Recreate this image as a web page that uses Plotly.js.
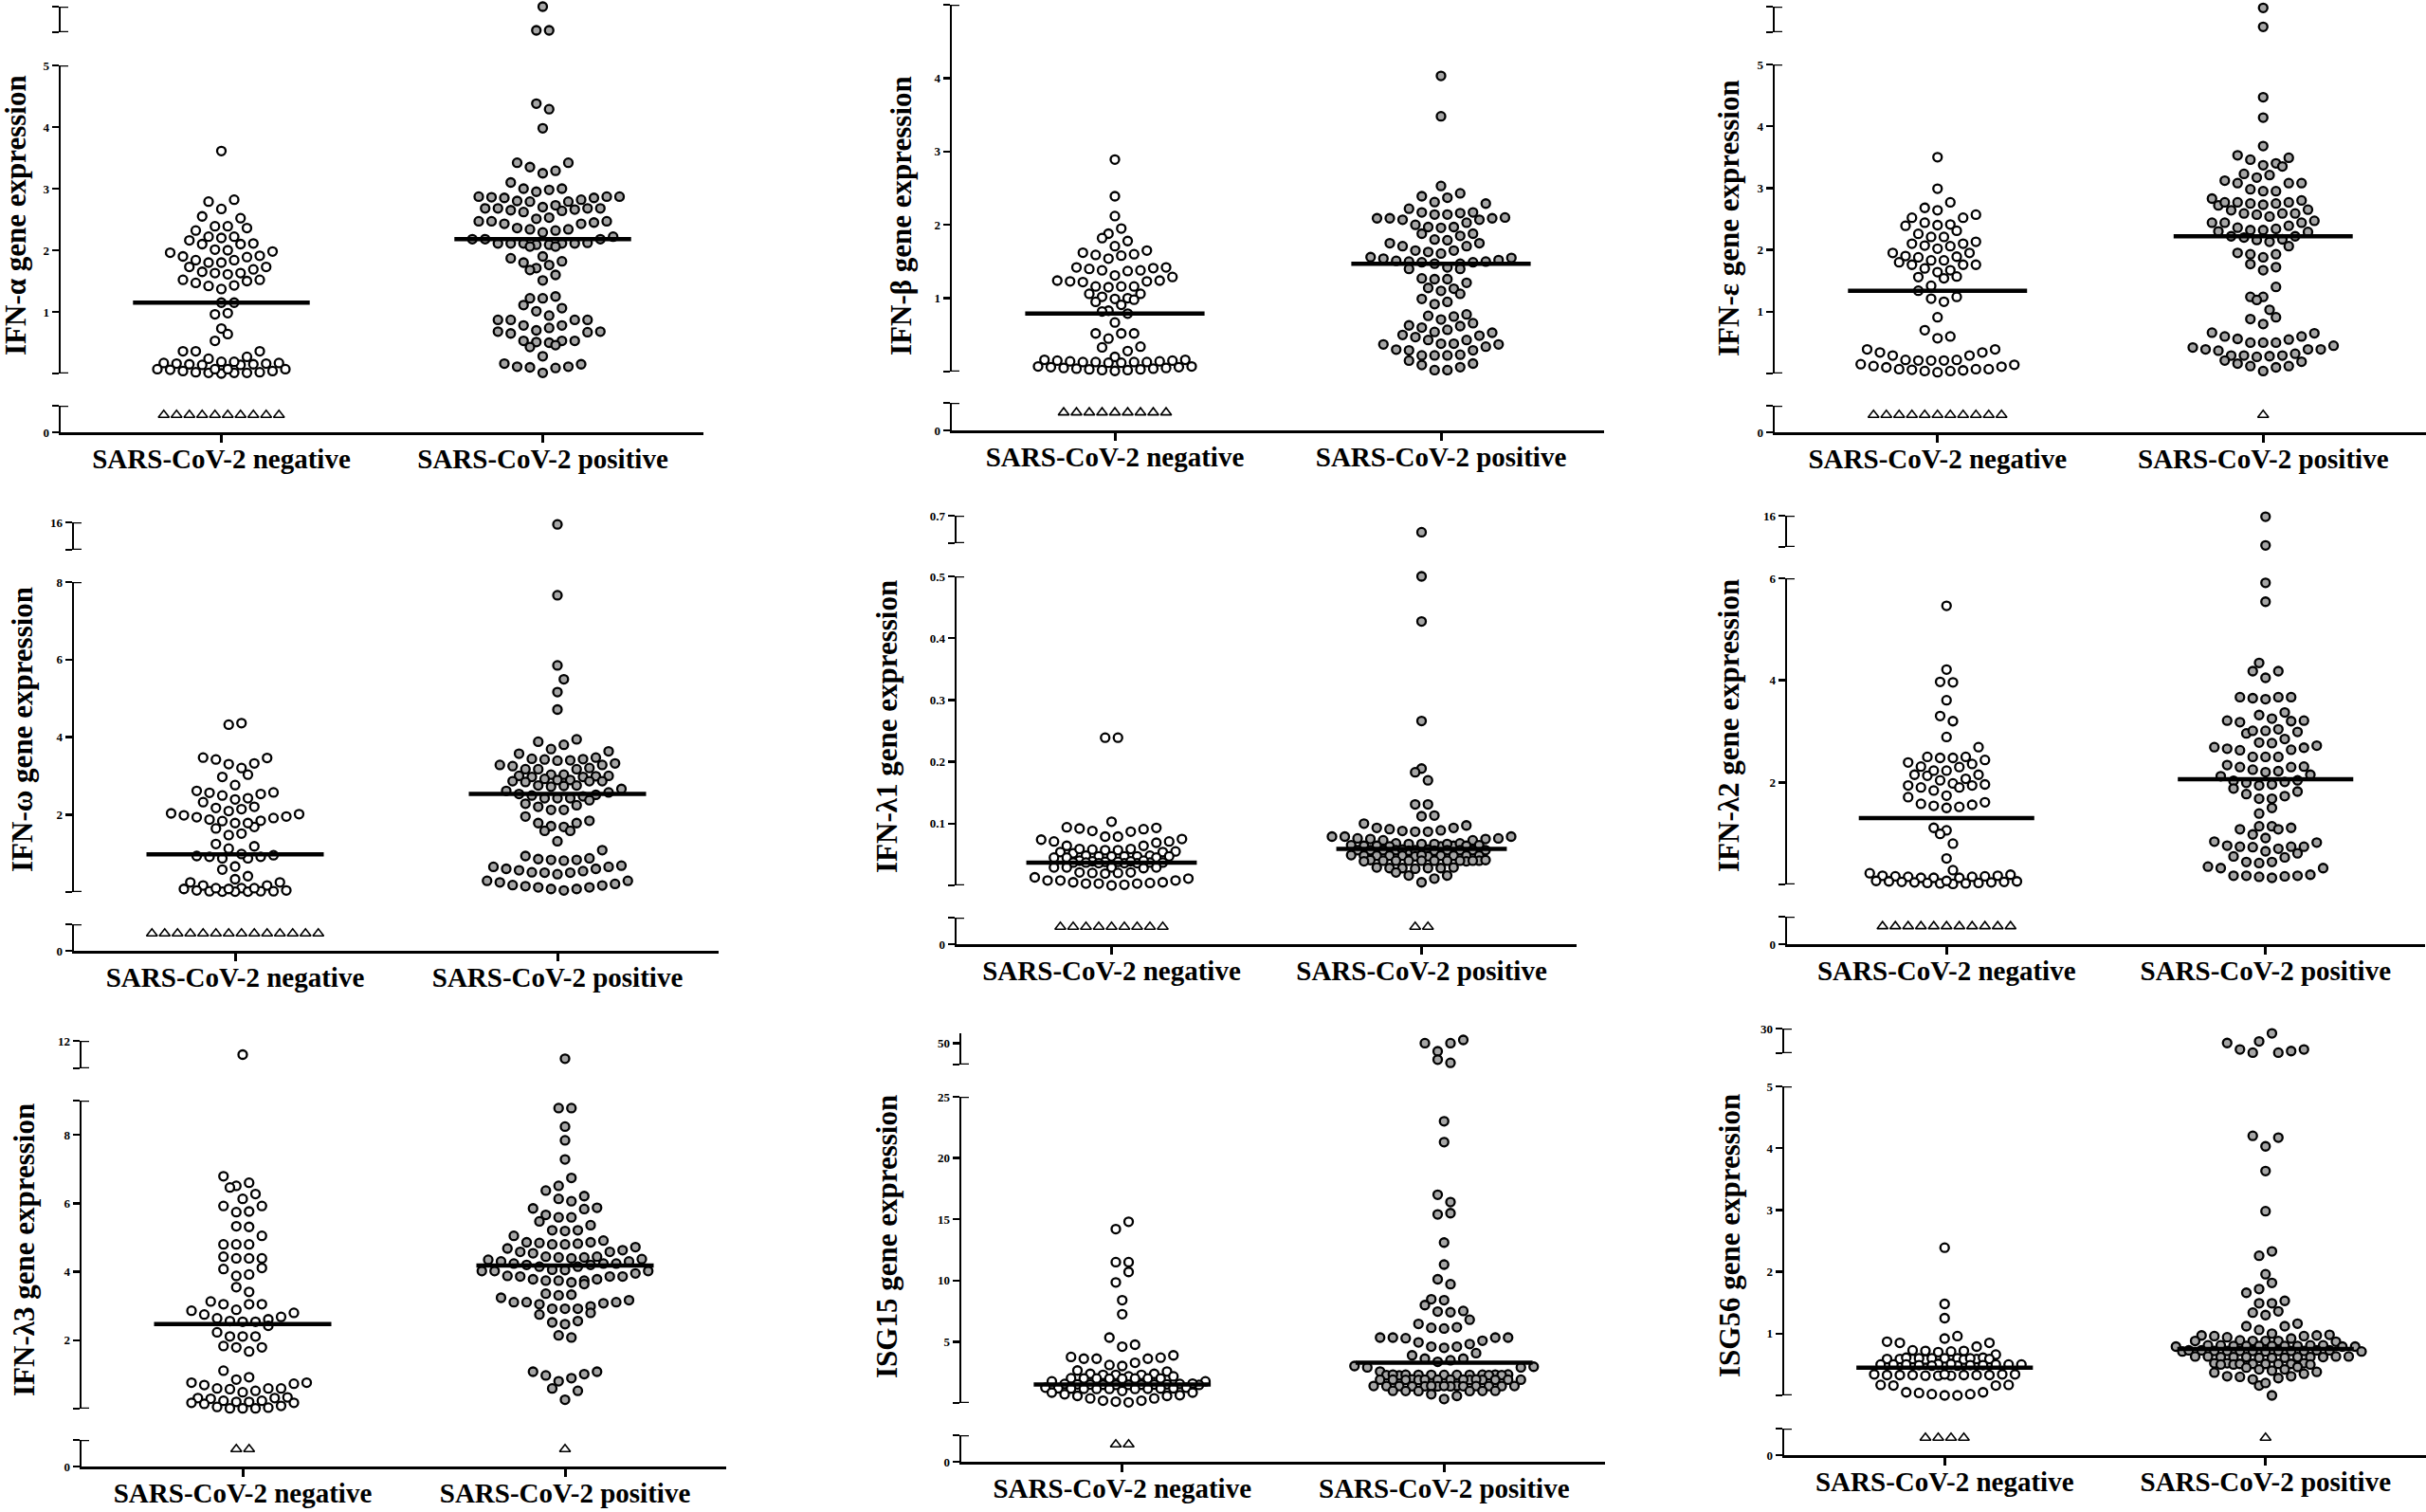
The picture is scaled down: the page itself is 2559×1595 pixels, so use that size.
<!DOCTYPE html>
<html><head><meta charset="utf-8">
<script src="https://cdn.plot.ly/plotly-3.0.1.min.js"></script>
<style>html,body{margin:0;padding:0;background:#fff}#chart{width:2559px;height:1595px}</style>
</head><body><div id="chart"></div>
<script>
// ---------------- DATA ----------------
const categories = ['SARS-CoV-2 negative', 'SARS-CoV-2 positive'];
const yTitles = ['IFN-α gene expression','IFN-β gene expression','IFN-ε gene expression',
  'IFN-ω gene expression','IFN-λ1 gene expression','IFN-λ2 gene expression',
  'IFN-λ3 gene expression','ISG15 gene expression','ISG56 gene expression'];

// IFN-alpha
const ifnA_neg = [3.61,2.82,2.79,2.67,2.55,2.52,2.39,2.32,2.36,2.39,2.22,2.16,2.10,2.10,2.11,2.20,2.22,2.01,1.98,1.96,2.00,1.91,1.89,1.84,1.84,1.90,1.80,1.80,1.73,1.73,1.65,1.63,1.61,1.63,1.69,1.52,1.50,1.47,1.52,1.43,1.37,1.42,1.15,1.15,0.96,0.98,0.73,0.64,0.53,0.36,0.36,0.36,0.24,0.27,0.19,0.17,0.16,0.15,0.14,0.14,0.15,0.16,0.17,0.19,0.07,0.07,0.04,0.02,0.01,0.01,0.00,0.01,0.02,0.04,0.06,0.07,0.07];
const ifnA_pos = [4.38,4.29,3.98,3.42,3.29,3.25,3.35,3.42,3.10,3.00,3.00,2.98,2.95,2.87,2.87,2.86,2.82,2.79,2.79,2.80,2.85,2.85,2.87,2.68,2.68,2.68,2.62,2.66,2.64,2.65,2.68,2.70,2.73,2.51,2.47,2.43,2.45,2.53,2.47,2.47,2.34,2.32,2.29,2.36,2.34,2.43,2.18,2.18,2.11,2.11,2.11,2.11,2.09,2.09,2.11,2.12,2.18,2.22,2.06,2.06,1.90,1.82,1.76,1.71,1.80,1.87,1.68,1.60,1.51,1.22,1.22,1.25,1.11,1.06,1.01,0.94,0.87,0.87,0.87,0.87,0.78,0.74,0.78,0.70,0.68,0.65,0.67,0.68,0.53,0.53,0.51,0.53,0.50,0.43,0.46,0.28,0.16,0.11,0.10,0.09,0.11,0.15,0.01];
const ifnA_negTop = [];
const ifnA_posTop = [12.0,10.15,10.15];
const ifnA_negND = [0.65,0.65,0.65,0.65,0.65,0.65,0.65,0.65,0.65,0.65];
const ifnA_posND = [];
const ifnA_median = [1.15,2.18];
const ifnA_mainTicks = [0,1,2,3,4,5], ifnA_mainText = ['','1','2','3','4','5'];
const ifnA_topTicks = [10,12], ifnA_topText = ['','12'];

// IFN-beta
const ifnB_neg = [2.89,2.39,2.12,1.95,1.88,1.82,1.78,1.71,1.65,1.62,1.60,1.59,1.58,1.54,1.42,1.42,1.41,1.40,1.38,1.38,1.37,1.31,1.29,1.24,1.24,1.23,1.22,1.23,1.16,1.16,1.15,1.16,1.06,1.06,1.02,1.00,0.99,0.98,0.95,0.91,0.83,0.82,0.79,0.67,0.52,0.52,0.52,0.45,0.34,0.33,0.28,0.20,0.16,0.15,0.14,0.13,0.13,0.12,0.12,0.13,0.13,0.14,0.15,0.16,0.07,0.06,0.05,0.04,0.03,0.02,0.01,0.02,0.03,0.04,0.05,0.06,0.07];
const ifnB_pos = [4.03,3.48,2.53,2.43,2.39,2.37,2.29,2.31,2.22,2.17,2.14,2.09,2.09,2.07,2.03,2.07,2.09,2.10,2.14,2.16,2.17,2.00,1.97,1.96,1.97,1.88,1.85,1.88,1.80,1.75,1.79,1.75,1.71,1.71,1.65,1.63,1.65,1.61,1.55,1.51,1.50,1.49,1.47,1.49,1.47,1.50,1.52,1.54,1.56,1.40,1.40,1.42,1.27,1.26,1.26,1.21,1.14,1.10,1.13,1.06,0.99,0.92,0.95,0.76,0.71,0.75,0.78,0.60,0.63,0.62,0.66,0.57,0.54,0.50,0.47,0.43,0.43,0.49,0.53,0.38,0.37,0.34,0.29,0.29,0.30,0.37,0.38,0.23,0.22,0.22,0.22,0.11,0.06,0.02,0.02,0.09,0.15];
const ifnB_negTop = [], ifnB_posTop = [];
const ifnB_negND = [0.65,0.65,0.65,0.65,0.65,0.65,0.65,0.65,0.65];
const ifnB_posND = [];
const ifnB_median = [0.79,1.47];
const ifnB_mainTicks = [0,1,2,3,4,5], ifnB_mainText = ['','1','2','3','4','5'];

// IFN-epsilon
const ifnE_neg = [3.50,2.99,2.77,2.64,2.68,2.52,2.52,2.57,2.41,2.40,2.31,2.39,2.44,2.26,2.21,2.21,2.13,2.10,2.10,2.06,2.07,2.02,1.95,1.95,1.90,1.88,1.89,1.83,1.83,1.80,1.76,1.76,1.76,1.70,1.67,1.64,1.57,1.56,1.54,1.42,1.34,1.24,1.21,1.16,0.91,0.70,0.60,0.57,0.39,0.34,0.34,0.39,0.29,0.29,0.22,0.21,0.21,0.21,0.22,0.14,0.11,0.07,0.07,0.05,0.04,0.02,0.04,0.06,0.07,0.10,0.12,0.15];
const ifnE_pos = [4.47,4.14,3.68,3.49,3.40,3.35,3.37,3.46,3.53,3.21,3.12,3.08,3.08,3.08,3.17,3.23,2.98,2.95,2.95,2.83,2.77,2.77,2.75,2.72,2.73,2.75,2.77,2.80,2.64,2.59,2.59,2.59,2.65,2.57,2.54,2.44,2.44,2.36,2.39,2.44,2.47,2.32,2.30,2.29,2.32,2.34,2.22,2.20,2.17,2.13,2.16,2.22,2.06,1.95,1.93,1.93,1.88,1.77,1.72,1.67,1.40,1.24,1.24,1.19,1.03,0.91,0.88,0.80,0.65,0.60,0.56,0.50,0.50,0.50,0.55,0.60,0.66,0.42,0.39,0.37,0.29,0.28,0.27,0.29,0.29,0.32,0.39,0.39,0.45,0.19,0.12,0.10,0.04,0.12,0.16,0.21];
const ifnE_negTop = [];
const ifnE_posTop = [6.95,6.21];
const ifnE_negND = [0.65,0.65,0.65,0.65,0.65,0.65,0.65,0.65,0.65,0.65,0.65];
const ifnE_posND = [0.65];
const ifnE_median = [1.34,2.22];
const ifnE_mainTicks = [0,1,2,3,4,5], ifnE_mainText = ['','1','2','3','4','5'];
const ifnE_topTicks = [6,7], ifnE_topText = ['','7'];

// IFN-omega
const ifnW_neg = [4.32,4.36,3.47,3.42,3.32,3.20,3.30,3.46,3.03,2.97,2.76,2.57,2.53,2.42,2.39,2.49,2.56,2.61,2.32,2.17,2.09,2.01,2.03,2.14,2.20,1.95,1.91,1.84,1.78,1.68,1.64,1.78,1.83,1.87,1.93,1.98,1.51,1.47,1.24,1.12,1.18,0.95,0.93,0.87,0.87,0.91,0.91,0.98,0.66,0.58,0.41,0.33,0.25,0.25,0.17,0.17,0.10,0.08,0.04,0.02,0.02,0.01,0.01,0.01,0.02,0.04,0.08,0.10,0.10];
const ifnW_pos = [7.66,5.85,5.49,5.16,4.71,3.94,3.88,3.80,3.69,3.63,3.57,3.44,3.47,3.42,3.39,3.40,3.43,3.28,3.25,3.28,3.32,3.17,3.17,3.17,3.20,3.03,3.00,2.97,3.03,3.00,2.97,2.99,2.89,2.86,2.86,2.84,2.86,2.92,2.89,2.75,2.74,2.75,2.72,2.66,2.61,2.57,2.53,2.51,2.49,2.47,2.42,2.42,2.42,2.37,2.28,2.24,2.20,2.12,2.12,1.95,1.84,1.78,1.78,1.70,1.68,1.58,1.58,1.31,1.08,0.87,0.81,0.83,0.83,0.85,0.93,0.65,0.60,0.54,0.50,0.46,0.50,0.51,0.56,0.60,0.65,0.68,0.25,0.18,0.17,0.12,0.08,0.04,0.08,0.12,0.15,0.21,0.29,0.29];
const ifnW_negTop = [];
const ifnW_posTop = [15.7];
const ifnW_negND = [0.65,0.65,0.65,0.65,0.65,0.65,0.65,0.65,0.65,0.65,0.65,0.65,0.65,0.65];
const ifnW_posND = [];
const ifnW_median = [0.97,2.53];
const ifnW_mainTicks = [0,2,4,6,8], ifnW_mainText = ['','2','4','6','8'];
const ifnW_topTicks = [12,16], ifnW_topText = ['','16'];

// IFN-lambda1
const ifnL1_neg = [0.239,0.239,0.103,0.092,0.091,0.093,0.094,0.087,0.079,0.079,0.088,0.075,0.071,0.069,0.071,0.074,0.064,0.059,0.064,0.058,0.057,0.054,0.052,0.048,0.054,0.055,0.057,0.059,0.047,0.045,0.047,0.048,0.047,0.045,0.047,0.047,0.045,0.040,0.039,0.038,0.037,0.037,0.036,0.036,0.036,0.037,0.037,0.038,0.039,0.040,0.029,0.029,0.028,0.029,0.029,0.020,0.021,0.019,0.020,0.021,0.011,0.008,0.005,0.003,0.003,0.001,0.000,0.003,0.004,0.005,0.008,0.008,0.013];
const ifnL1_pos = [0.500,0.427,0.266,0.189,0.183,0.170,0.131,0.131,0.113,0.112,0.100,0.097,0.093,0.093,0.091,0.089,0.087,0.079,0.076,0.075,0.073,0.073,0.075,0.076,0.079,0.079,0.087,0.088,0.068,0.067,0.063,0.064,0.065,0.067,0.068,0.065,0.063,0.064,0.064,0.064,0.067,0.067,0.057,0.057,0.058,0.057,0.056,0.057,0.057,0.056,0.057,0.058,0.057,0.057,0.057,0.048,0.048,0.049,0.048,0.047,0.048,0.048,0.047,0.048,0.049,0.048,0.048,0.040,0.040,0.041,0.040,0.039,0.040,0.040,0.039,0.040,0.041,0.040,0.040,0.040,0.028,0.028,0.029,0.027,0.029,0.028,0.028,0.016,0.011,0.005,0.016,0.021];
const ifnL1_negTop = [];
const ifnL1_posTop = [0.64];
const ifnL1_negND = [0.65,0.65,0.65,0.65,0.65,0.65,0.65,0.65,0.65];
const ifnL1_posND = [0.65,0.65];
const ifnL1_median = [0.037,0.059];
const ifnL1_mainTicks = [0,0.1,0.2,0.3,0.4,0.5], ifnL1_mainText = ['','0.1','0.2','0.3','0.4','0.5'];
const ifnL1_topTicks = [0.6,0.7], ifnL1_topText = ['','0.7'];

// IFN-lambda2
const ifnL2_neg = [5.46,4.21,3.96,3.97,3.61,3.30,3.20,2.89,2.69,2.50,2.50,2.44,2.48,2.48,2.36,2.30,2.39,2.31,2.23,2.15,2.13,2.15,2.23,2.07,1.98,1.94,1.94,2.04,1.96,1.90,1.90,1.84,1.74,1.61,1.56,1.52,1.50,1.54,1.58,1.71,1.11,1.06,0.99,0.80,0.51,0.28,0.22,0.17,0.16,0.15,0.13,0.13,0.13,0.15,0.16,0.17,0.19,0.07,0.06,0.05,0.04,0.03,0.02,0.01,0.02,0.03,0.04,0.05,0.06,0.07];
const ifnL2_pos = [5.91,5.54,4.34,4.18,4.18,4.05,3.67,3.65,3.63,3.67,3.67,3.37,3.32,3.21,3.20,3.18,3.21,3.25,3.01,2.96,3.04,2.99,3.01,2.85,2.72,2.68,2.64,2.78,2.77,2.63,2.66,2.69,2.50,2.50,2.50,2.34,2.30,2.25,2.22,2.31,2.30,2.20,2.15,2.12,2.04,2.01,1.94,1.96,1.99,2.03,1.88,1.77,1.82,1.73,1.68,1.68,1.50,1.39,1.14,1.08,0.98,1.08,1.11,1.14,0.91,0.82,0.74,0.74,0.70,0.73,0.76,0.74,0.84,0.61,0.53,0.44,0.42,0.44,0.55,0.65,0.32,0.32,0.35,0.19,0.17,0.16,0.13,0.15,0.17,0.17];
const ifnL2_negTop = [];
const ifnL2_posTop = [15.8,10.3];
const ifnL2_negND = [0.65,0.65,0.65,0.65,0.65,0.65,0.65,0.65,0.65,0.65,0.65];
const ifnL2_posND = [];
const ifnL2_median = [1.30,2.06];
const ifnL2_mainTicks = [0,2,4,6], ifnL2_mainText = ['','2','4','6'];
const ifnL2_topTicks = [10,16], ifnL2_topText = ['','16'];

// IFN-lambda3
const ifnL3_neg = [6.79,6.60,6.51,6.46,6.27,6.13,5.92,5.92,5.76,5.74,5.33,5.31,5.05,4.80,4.80,4.80,4.44,4.39,4.39,4.39,4.11,4.08,3.92,3.88,3.55,3.41,3.13,3.05,3.05,3.05,2.89,2.86,2.80,2.75,2.68,2.64,2.61,2.56,2.54,2.54,2.42,2.23,2.11,2.11,2.11,1.83,1.79,1.79,1.67,1.11,0.92,0.85,0.76,0.69,0.73,0.76,0.59,0.59,0.57,0.59,0.48,0.52,0.31,0.29,0.31,0.33,0.23,0.20,0.17,0.08,0.03,0.01,0.01,0.01,0.05,0.14,0.17,0.20,0.23];
const ifnL3_pos = [8.78,8.78,8.24,7.84,7.28,6.74,6.51,6.37,6.21,6.13,6.06,5.87,5.85,5.83,5.66,5.59,5.59,5.47,5.36,5.21,5.21,5.19,5.05,4.91,4.86,4.82,4.80,4.84,4.86,4.80,4.72,4.68,4.63,4.58,4.58,4.54,4.44,4.42,4.39,4.42,4.37,4.35,4.30,4.44,4.24,4.20,4.24,4.15,4.20,4.15,4.24,4.30,4.02,4.02,4.06,4.05,4.02,3.95,3.88,3.86,3.78,3.74,3.74,3.69,3.74,3.78,3.86,3.86,3.64,3.36,3.33,3.31,3.17,3.11,3.08,3.11,3.11,3.24,2.99,2.92,2.92,2.92,3.05,2.80,2.75,2.56,2.52,2.47,2.14,2.08,1.08,0.97,0.89,1.01,1.08,0.80,0.59,0.52,0.26];
const ifnL3_negTop = [11.0];
const ifnL3_posTop = [10.7];
const ifnL3_negND = [0.65,0.65];
const ifnL3_posND = [0.65];
const ifnL3_median = [2.47,4.18];
const ifnL3_mainTicks = [0,2,4,6,8,9], ifnL3_mainText = ['','2','4','6','8',''];
const ifnL3_topTicks = [10,12], ifnL3_topText = ['','12'];

// ISG15
const isg15_neg = [14.8,14.2,11.5,11.5,10.7,9.84,8.39,7.25,5.34,4.76,4.60,3.76,3.62,3.62,3.62,3.70,3.89,3.28,3.02,3.10,2.65,2.57,2.38,2.30,2.30,2.30,2.38,2.17,2.17,2.00,2.01,1.99,2.02,2.00,1.98,2.01,2.00,1.77,1.77,1.55,1.52,1.50,1.49,1.48,1.48,1.48,1.49,1.50,1.52,1.55,1.58,1.25,1.20,1.18,1.16,1.15,1.15,1.15,1.16,1.18,1.20,1.25,0.85,0.63,0.58,0.37,0.19,0.11,0.05,0.19,0.37,0.58,0.71,0.85,0.98];
const isg15_pos = [23.0,21.3,17.0,16.4,15.5,15.4,13.1,11.3,10.1,9.7,8.39,8.47,7.99,7.51,7.41,7.46,6.80,6.46,6.14,6.08,6.19,5.34,5.29,5.34,5.34,5.34,5.08,4.95,4.81,4.60,4.60,4.50,4.07,3.89,3.62,3.62,3.49,3.36,3.02,2.96,2.91,2.91,2.57,2.26,2.28,2.30,2.31,2.32,2.29,2.30,2.33,2.27,2.30,2.31,2.29,2.28,2.32,1.88,1.90,1.91,1.89,1.92,1.90,1.88,1.91,1.90,1.89,1.92,1.90,1.91,1.89,1.90,1.36,1.38,1.39,1.37,1.38,1.40,1.38,1.37,1.39,1.38,1.36,1.40,1.38,1.37,1.39,0.97,0.98,0.99,0.98,0.97,0.99,0.71,0.58,0.32];
const isg15_negTop = [];
const isg15_posTop = [51.5,50.0,50.0,46.2,42.3,40.8];
const isg15_negND = [0.65,0.65];
const isg15_posND = [];
const isg15_median = [1.51,3.28];
const isg15_mainTicks = [0,5,10,15,20,25], isg15_mainText = ['','5','10','15','20','25'];
const isg15_topTicks = [40,50], isg15_topText = ['','50'];

// ISG56
const isg56_neg = [2.39,1.48,1.25,0.96,0.92,0.85,0.85,0.87,0.79,0.72,0.70,0.66,0.71,0.72,0.73,0.59,0.60,0.59,0.58,0.60,0.59,0.61,0.59,0.60,0.58,0.60,0.59,0.61,0.60,0.50,0.49,0.50,0.48,0.50,0.51,0.49,0.50,0.48,0.50,0.49,0.51,0.50,0.33,0.34,0.33,0.32,0.33,0.34,0.33,0.32,0.33,0.34,0.33,0.32,0.34,0.17,0.16,0.17,0.16,0.05,0.02,0.00,0.00,0.02,0.04,0.05];
const isg56_pos = [4.20,4.17,4.03,3.63,2.98,2.33,2.26,1.96,1.82,1.72,1.66,1.53,1.49,1.49,1.36,1.34,1.30,1.16,1.12,1.06,1.12,0.98,0.97,0.96,0.94,0.96,0.97,1.00,0.92,0.89,0.88,0.87,0.88,0.88,0.88,0.80,0.81,0.79,0.80,0.81,0.80,0.79,0.80,0.81,0.80,0.79,0.80,0.81,0.72,0.73,0.71,0.72,0.73,0.72,0.71,0.72,0.73,0.72,0.71,0.72,0.73,0.72,0.62,0.63,0.61,0.62,0.63,0.62,0.61,0.62,0.63,0.62,0.61,0.62,0.63,0.51,0.52,0.50,0.51,0.52,0.51,0.50,0.51,0.52,0.51,0.50,0.46,0.42,0.40,0.37,0.31,0.30,0.26,0.28,0.31,0.35,0.38,0.42,0.45,0.16,0.20,0.00];
const isg56_negTop = [];
const isg56_posTop = [29.1,27.3,27.6,26.1,25.5,25.2,25.5,25.8,26.1];
const isg56_negND = [0.65,0.65,0.65,0.65];
const isg56_posND = [0.65];
const isg56_median = [0.45,0.75];
const isg56_mainTicks = [0,1,2,3,4,5], isg56_mainText = ['','1','2','3','4','5'];
const isg56_topTicks = [25.4,30], isg56_topText = ['','30'];

const ndTicks = [0,1], ndText = ['0',''];

// ---------------- LAYOUT GEOMETRY (pixels of the 2559x1595 canvas) ----------------
const W = 2559, H = 1595;
const panels = [
 {neg:ifnA_neg,pos:ifnA_pos,negTop:ifnA_negTop,posTop:ifnA_posTop,negND:ifnA_negND,posND:ifnA_posND,med:ifnA_median,
  main:[0,5],mT:ifnA_mainTicks,mL:ifnA_mainText,top:[10,12],tT:ifnA_topTicks,tL:ifnA_topText,
  g:{ax:64,xe:742,xa:456,bt:428,mb:394,mt:69,tb:34,tt:7,tx:16,ty:227}},
 {neg:ifnB_neg,pos:ifnB_pos,negTop:ifnB_negTop,posTop:ifnB_posTop,negND:ifnB_negND,posND:ifnB_posND,med:ifnB_median,
  main:[0,5],mT:ifnB_mainTicks,mL:ifnB_mainText,top:null,
  g:{ax:1004,xe:1692,xa:454,bt:425,mb:392,mt:5,tx:950,ty:228}},
 {neg:ifnE_neg,pos:ifnE_pos,negTop:ifnE_negTop,posTop:ifnE_posTop,negND:ifnE_negND,posND:ifnE_posND,med:ifnE_median,
  main:[0,5],mT:ifnE_mainTicks,mL:ifnE_mainText,top:[6,7],tT:ifnE_topTicks,tL:ifnE_topText,
  g:{ax:1872,xe:2559,xa:456,bt:428,mb:394,mt:68,tb:34,tt:7,tx:1824,ty:230}},
 {neg:ifnW_neg,pos:ifnW_pos,negTop:ifnW_negTop,posTop:ifnW_posTop,negND:ifnW_negND,posND:ifnW_posND,med:ifnW_median,
  main:[0,8],mT:ifnW_mainTicks,mL:ifnW_mainText,top:[12,16],tT:ifnW_topTicks,tL:ifnW_topText,
  g:{ax:78,xe:758,xa:1003,bt:975,mb:941,mt:614,tb:580,tt:551,tx:23,ty:770}},
 {neg:ifnL1_neg,pos:ifnL1_pos,negTop:ifnL1_negTop,posTop:ifnL1_posTop,negND:ifnL1_negND,posND:ifnL1_posND,med:ifnL1_median,
  main:[0,0.5],mT:ifnL1_mainTicks,mL:ifnL1_mainText,top:[0.6,0.7],tT:ifnL1_topTicks,tL:ifnL1_topText,
  g:{ax:1009,xe:1663,xa:996,bt:968,mb:934,mt:608,tb:573,tt:544,tx:935,ty:767}},
 {neg:ifnL2_neg,pos:ifnL2_pos,negTop:ifnL2_negTop,posTop:ifnL2_posTop,negND:ifnL2_negND,posND:ifnL2_posND,med:ifnL2_median,
  main:[0,6],mT:ifnL2_mainTicks,mL:ifnL2_mainText,top:[10,16],tT:ifnL2_topTicks,tL:ifnL2_topText,
  g:{ax:1885,xe:2558,xa:996,bt:967,mb:933,mt:610,tb:577,tt:544,tx:1824,ty:766}},
 {neg:ifnL3_neg,pos:ifnL3_pos,negTop:ifnL3_negTop,posTop:ifnL3_posTop,negND:ifnL3_negND,posND:ifnL3_posND,med:ifnL3_median,
  main:[0,9],mT:ifnL3_mainTicks,mL:ifnL3_mainText,top:[10,12],tT:ifnL3_topTicks,tL:ifnL3_topText,
  g:{ax:86,xe:766,xa:1547,bt:1519,mb:1486,mt:1161,tb:1127,tt:1098,tx:25,ty:1319}},
 {neg:isg15_neg,pos:isg15_pos,negTop:isg15_negTop,posTop:isg15_posTop,negND:isg15_negND,posND:isg15_posND,med:isg15_median,
  main:[0,25],mT:isg15_mainTicks,mL:isg15_mainText,top:[40,54.6],tT:isg15_topTicks,tL:isg15_topText,noTopCap:true,
  g:{ax:1014,xe:1693,xa:1542,bt:1514,mb:1480,mt:1157,tb:1123,tt:1090,tx:935,ty:1305}},
 {neg:isg56_neg,pos:isg56_pos,negTop:isg56_negTop,posTop:isg56_posTop,negND:isg56_negND,posND:isg56_posND,med:isg56_median,
  main:[0,5],mT:isg56_mainTicks,mL:isg56_mainText,top:[25.4,30],tT:isg56_topTicks,tL:isg56_topText,
  g:{ax:1882,xe:2559,xa:1535,bt:1507,mb:1472,mt:1146,tb:1111,tt:1085,tx:1824,ty:1304}}
];

const D = 13.5;       // horizontal spacing of symbols in a row (px)
const HB = 12;        // height of a row bin (px)
const MAXROW = 15;    // widest row before a bin is split
const FONT = 'Liberation Serif, Times New Roman, serif';
const GREY = '#a6a6a6';

// Prism-like row layout: values within a bin share a row; neighbouring rows interleave
function rowLayout(values, ppu){
  const n = values.length;
  const idx = values.map((v,i)=>i).sort((a,b)=>values[a]-values[b]);
  const py = values.map(v=>v*ppu);
  const bins = []; let cur = null;
  idx.forEach(i=>{
    const y = py[i];
    if(!cur || y-cur.start>=HB){ cur={start:y,pts:[]}; bins.push(cur); }
    cur.pts.push(i);
  });
  const rows = [];
  bins.forEach(b=>{
    const k = Math.ceil(b.pts.length/MAXROW), size = Math.ceil(b.pts.length/k);
    for(let j=0;j<b.pts.length;j+=size) rows.push({pts:b.pts.slice(j,j+size)});
  });
  const off = new Array(n);
  let prevRow = null, flip = false;
  rows.forEach(r=>{
    const m = r.pts.length;
    const c = r.pts.reduce((s,i)=>s+py[i],0)/m;
    let phase;
    if(prevRow && c-prevRow.c < 14) phase = 1-prevRow.phase;
    else phase = (m%2===1) ? 0 : 1;
    const a = flip ? -1 : 1, pos = [];
    if(phase===0){
      pos.push(0);
      for(let k=1; pos.length<m; k++){ pos.push(a*k*D); if(pos.length<m) pos.push(-a*k*D); }
    } else {
      for(let k=0; pos.length<m; k++){ pos.push(a*(k+0.5)*D); if(pos.length<m) pos.push(-a*(k+0.5)*D); }
    }
    flip = !flip;
    r.pts.forEach((i,j)=>{ off[i]=pos[j]; });
    r.c = c; r.phase = phase; prevRow = r;
  });
  return off;
}

const traces=[], layout={
  width:W, height:H, margin:{l:0,r:0,t:0,b:0}, paper_bgcolor:'#fff', plot_bgcolor:'rgba(0,0,0,0)',
  showlegend:false, annotations:[], shapes:[], font:{family:FONT,color:'#000'}
};

let yCount=0;
panels.forEach((P,pi)=>{
  const g=P.g, xn=pi+1, xId='x'+xn, xKey='xaxis'+xn;
  const xUnit=(g.xe-g.ax)/2;
  const yBot=++yCount, yMain=++yCount, yTop=P.top?++yCount:null;
  layout[xKey] = {
    domain:[g.ax/W, Math.min(1,g.xe/W)], range:[0.5,2.5], anchor:'y'+yBot,
    showline:true, linewidth:3, linecolor:'#000', ticks:'outside', ticklen:8, tickwidth:3, tickcolor:'#000',
    tickvals:[1,2], ticktext:categories, tickfont:{family:FONT,size:29,weight:'bold',color:'#000'},
    ticklabelstandoff:-8, showgrid:false, zeroline:false, fixedrange:true
  };
  const yBase = (dom,range,tv,tt)=>({
    domain:dom, range:range, anchor:xId, showline:true, linewidth:2.5, linecolor:'#000',
    ticks:'outside', ticklen:7, tickwidth:2.5, tickcolor:'#000', tickvals:tv, ticktext:tt,
    tickfont:{family:FONT,size:13,weight:'bold',color:'#000'}, showgrid:false, zeroline:false, fixedrange:true
  });
  layout['yaxis'+yBot]=yBase([1-g.xa/H,1-g.bt/H],[0,1],ndTicks,ndText);
  layout['yaxis'+yMain]=yBase([1-g.mb/H,1-g.mt/H],P.main,P.mT,P.mL);
  if(yTop) layout['yaxis'+yTop]=yBase([1-g.tb/H,1-g.tt/H],P.top,P.tT,P.tL);

  const cap=(yid,val)=>layout.shapes.push({type:'line',xref:'paper',yref:'y'+yid,x0:g.ax/W,x1:(g.ax+8)/W,y0:val,y1:val,line:{color:'#000',width:2.5}});
  cap(yBot,1); cap(yMain,P.main[0]); cap(yMain,P.main[1]);
  if(yTop){ cap(yTop,P.top[0]); if(!P.noTopCap) cap(yTop,P.top[1]); }

  const ppuBot=(g.xa-g.bt), ppuMain=(g.mb-g.mt)/(P.main[1]-P.main[0]);
  const ppuTop=yTop?(g.tb-g.tt)/(P.top[1]-P.top[0]):1;

  const addPts=(vals,ppu,center,yid,kind)=>{
    if(!vals.length) return;
    const off=rowLayout(vals,ppu);
    const isTri=kind==='tri', filled=kind==='pos';
    traces.push({type:'scatter',mode:'markers',xaxis:xId,yaxis:'y'+yid,cliponaxis:false,hoverinfo:'skip',
      x:off.map(o=>center+o/xUnit), y:vals,
      marker:isTri?{symbol:'triangle-up',size:10,color:'#fff',line:{color:'#000',width:1.6}}
                  :{symbol:'circle',size:9,color:filled?GREY:'#fff',line:{color:'#000',width:2.3}}});
  };
  addPts(P.neg,ppuMain,1,yMain,'neg');
  addPts(P.pos,ppuMain,2,yMain,'pos');
  if(yTop){ addPts(P.negTop,ppuTop,1,yTop,'neg'); addPts(P.posTop,ppuTop,2,yTop,'pos'); }
  addPts(P.negND,ppuBot,1,yBot,'tri');
  addPts(P.posND,ppuBot,2,yBot,'tri');
  traces.push({type:'scatter',mode:'lines',xaxis:xId,yaxis:'y'+yMain,hoverinfo:'skip',cliponaxis:false,
    x:[0.725,1.275,null,1.725,2.275], y:[P.med[0],P.med[0],null,P.med[1],P.med[1]],
    line:{color:'#000',width:4.5}});
  layout.annotations.push({xref:'paper',yref:'paper',x:g.tx/W,y:1-g.ty/H,xanchor:'center',yanchor:'middle',
    text:yTitles[pi],textangle:-90,showarrow:false,font:{family:FONT,size:31,weight:'bold',color:'#000'}});
});

Plotly.newPlot('chart',traces,layout,{displayModeBar:false,staticPlot:true});
</script>
</body></html>
